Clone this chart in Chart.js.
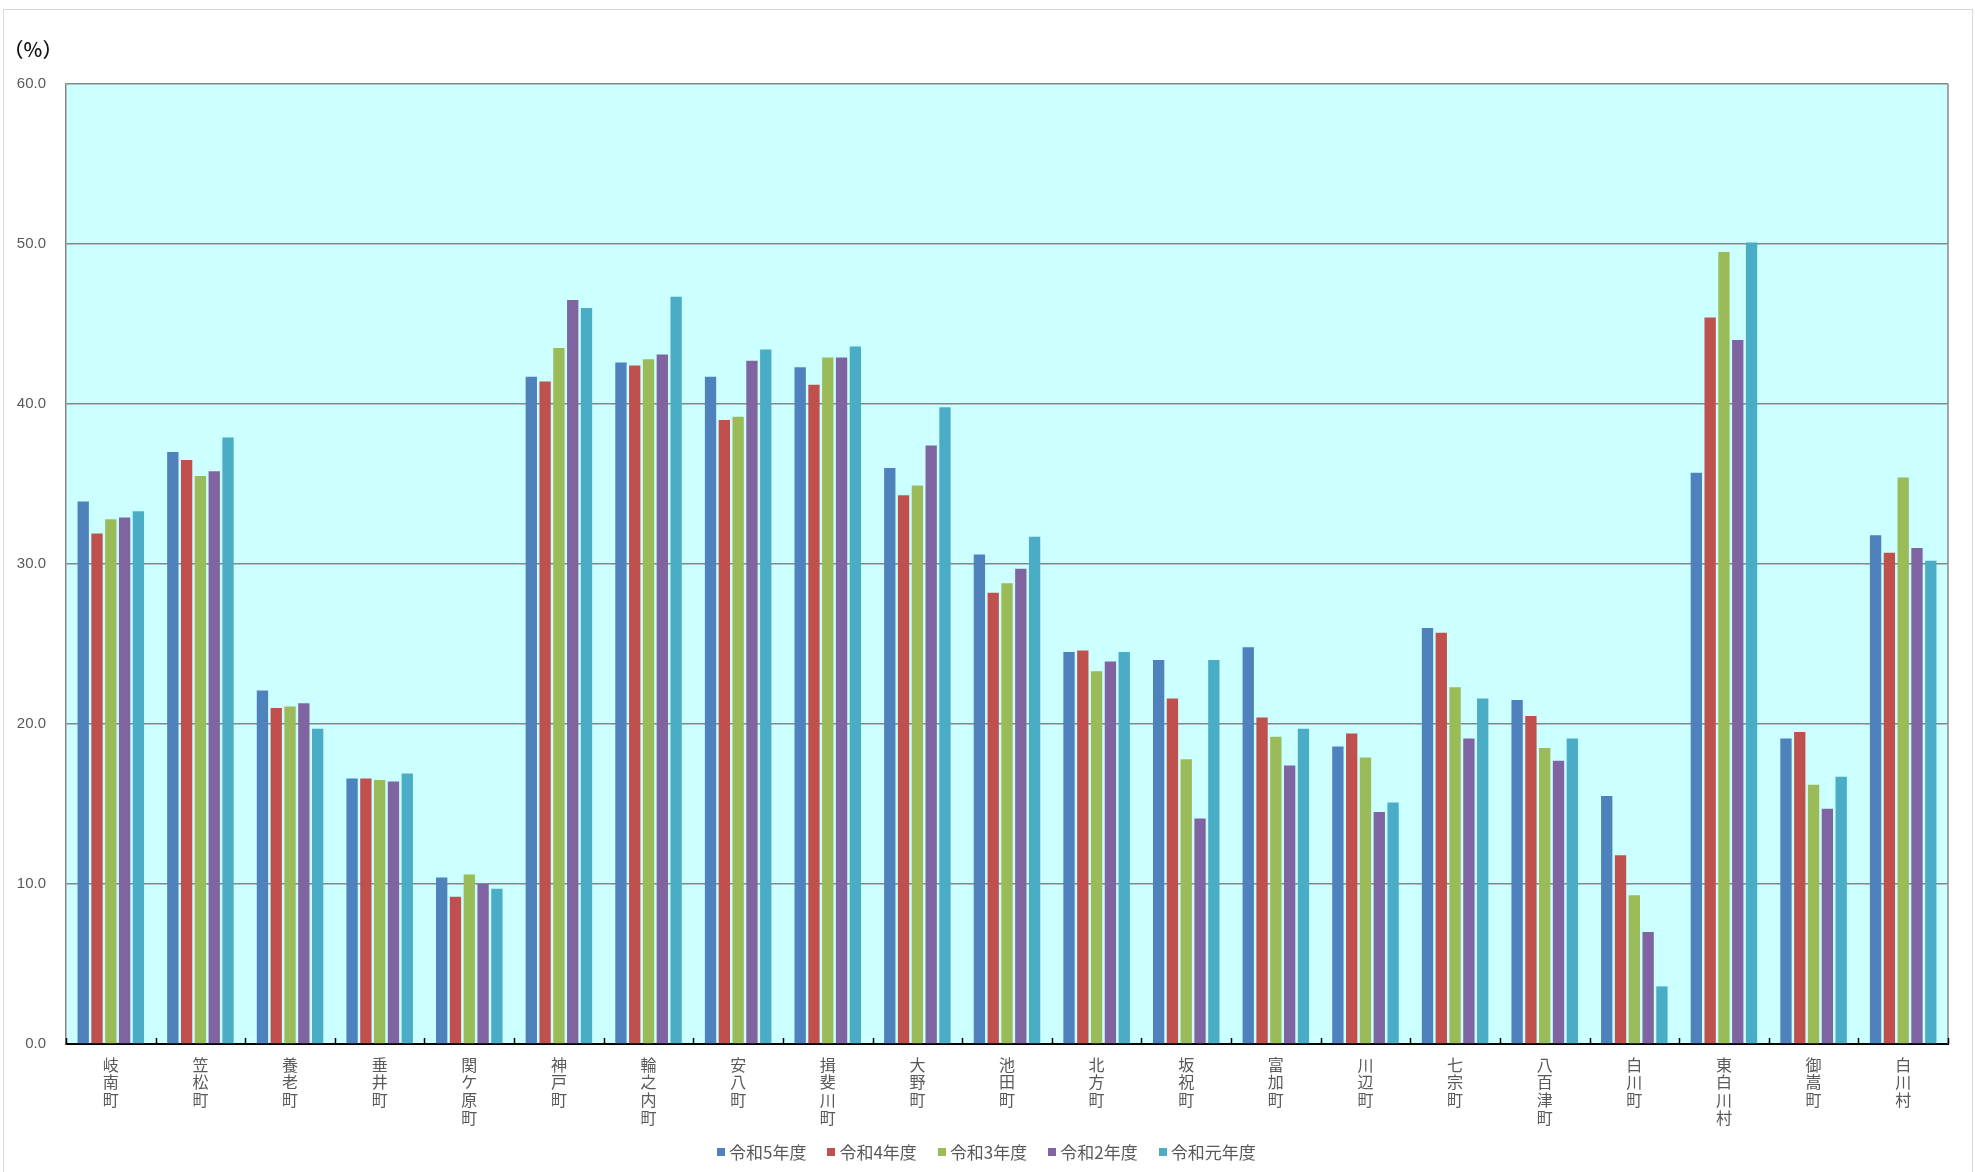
<!DOCTYPE html>
<html lang="ja">
<head>
<meta charset="utf-8">
<title>令和元年度〜令和5年度 町村別比較</title>
<script src="https://cdn.jsdelivr.net/npm/chart.js@4.4.1/dist/chart.umd.min.js"></script>
<style>
  html, body { margin: 0; padding: 0; background: #fff; }
  #wrap { position: relative; width: 1975px; height: 1172px; }
  #legend {
    position: absolute; left: 717px; top: 1140px; height: 24px;
    display: flex; gap: 21px;
    font-family: "Noto Sans CJK JP", sans-serif; font-size: 17px; line-height: 24px; color: #595959;
  }
  #legend .item { display: flex; align-items: center; }
  #legend .box { width: 8px; height: 8px; margin-right: 4px; }
</style>
</head>
<body>
<div id="wrap">
  <canvas id="chart" width="1975" height="1172"></canvas>
  <div id="legend"></div>
</div>
<script>
const categories = ["岐南町", "笠松町", "養老町", "垂井町", "関ケ原町", "神戸町", "輪之内町", "安八町", "揖斐川町", "大野町", "池田町",
  "北方町", "坂祝町", "富加町", "川辺町", "七宗町", "八百津町", "白川町", "東白川村", "御嵩町", "白川村"];

const seriesNames = ["令和5年度", "令和4年度", "令和3年度", "令和2年度", "令和元年度"];
const seriesColors = ["#4F81BD", "#C0504D", "#9BBB59", "#8064A2", "#4BACC6"];

const r5 = [33.9, 37.0, 22.1, 16.6, 10.4, 41.7, 42.6, 41.7, 42.3, 36.0, 30.6, 24.5, 24.0, 24.8, 18.6, 26.0, 21.5, 15.5, 35.7, 19.1, 31.8];
const r4 = [31.9, 36.5, 21.0, 16.6, 9.2, 41.4, 42.4, 39.0, 41.2, 34.3, 28.2, 24.6, 21.6, 20.4, 19.4, 25.7, 20.5, 11.8, 45.4, 19.5, 30.7];
const r3 = [32.8, 35.5, 21.1, 16.5, 10.6, 43.5, 42.8, 39.2, 42.9, 34.9, 28.8, 23.3, 17.8, 19.2, 17.9, 22.3, 18.5, 9.3, 49.5, 16.2, 35.4];
const r2 = [32.9, 35.8, 21.3, 16.4, 10.0, 46.5, 43.1, 42.7, 42.9, 37.4, 29.7, 23.9, 14.1, 17.4, 14.5, 19.1, 17.7, 7.0, 44.0, 14.7, 31.0];
const r1 = [33.3, 37.9, 19.7, 16.9, 9.7, 46.0, 46.7, 43.4, 43.6, 39.8, 31.7, 24.5, 24.0, 19.7, 15.1, 21.6, 19.1, 3.6, 50.1, 16.7, 30.2];

const yTicks = [0, 10, 20, 30, 40, 50, 60];

const allSeries = [r5, r4, r3, r2, r1];
const cjk = '"Noto Sans CJK JP", sans-serif';
const latin = '"Liberation Sans", Arial, sans-serif';

// background, frame and the little inner ticks on the category axis
const framePlugin = {
  id: "frame",
  beforeDraw(chart) {
    const { ctx, chartArea: a } = chart;
    ctx.save();
    ctx.fillStyle = "#fff";
    ctx.fillRect(0, 0, chart.width, chart.height);
    ctx.strokeStyle = "#d9d9d9";
    ctx.lineWidth = 1;
    ctx.strokeRect(3.5, 9.5, chart.width - 6, chart.height);
    ctx.fillStyle = "#CCFFFF";
    ctx.fillRect(a.left, a.top, a.right - a.left, a.bottom - a.top);
    ctx.restore();
  },
  afterDraw(chart) {
    const { ctx, chartArea: a } = chart;
    const x = chart.scales.x;
    ctx.save();
    ctx.strokeStyle = "#8a8a8a";
    ctx.lineWidth = 1.5;
    ctx.beginPath();
    ctx.moveTo(a.right, a.top);
    ctx.lineTo(a.right, a.bottom);
    ctx.stroke();

    ctx.strokeStyle = "#000";
    ctx.lineWidth = 1.5;
    const half = (x.getPixelForValue(1) - x.getPixelForValue(0)) / 2;
    ctx.beginPath();
    for (let i = 0; i <= categories.length; i += 1) {
      const px = Math.round(x.getPixelForValue(0) - half + i * half * 2) + 0.5;
      ctx.moveTo(px, a.bottom);
      ctx.lineTo(px, a.bottom - 6);
    }
    ctx.stroke();

    ctx.fillStyle = "#111";
    ctx.font = "500 20px " + cjk;
    ctx.textAlign = "center";
    ctx.textBaseline = "middle";
    ctx.fillText("（%）", 33, 49);
    ctx.restore();
  }
};

const chart = new Chart(document.getElementById("chart"), {
  type: "bar",
  data: {
    labels: categories.map((name) => [...name]),
    datasets: allSeries.map((values, i) => ({
      label: seriesNames[i],
      data: values,
      backgroundColor: seriesColors[i],
      borderWidth: 0,
      categoryPercentage: 0.77,
      barPercentage: 0.82
    }))
  },
  options: {
    responsive: false,
    animation: false,
    layout: { padding: { top: 84, right: 27, left: 0, bottom: 0 } },
    plugins: {
      legend: { display: false },
      tooltip: { enabled: false }
    },
    scales: {
      x: {
        grid: { display: false, drawTicks: false },
        border: { display: true, color: "#000", width: 2 },
        ticks: {
          autoSkip: false,
          maxRotation: 0,
          padding: 12,
          color: "#595959",
          font: { family: cjk, size: 16, lineHeight: 1.1 }
        },
        afterFit: (scale) => { scale.height = 1172 - 1044; }
      },
      y: {
        min: 0,
        max: 60,
        afterBuildTicks: (scale) => { scale.ticks = yTicks.map((v) => ({ value: v })); },
        grid: { color: "#858585", lineWidth: 1.5, drawTicks: false },
        border: { display: true, color: "#858585", width: 1.5 },
        ticks: {
          padding: 20,
          color: "#595959",
          font: { family: latin, size: 15 },
          callback: (v) => Number(v).toFixed(1)
        },
        afterFit: (scale) => { scale.width = 66; }
      }
    }
  },
  plugins: [framePlugin]
});

const legendEl = document.getElementById("legend");
seriesNames.forEach((name, i) => {
  const item = document.createElement("div");
  item.className = "item";
  const box = document.createElement("span");
  box.className = "box";
  box.style.background = seriesColors[i];
  const text = document.createElement("span");
  text.textContent = name;
  item.appendChild(box);
  item.appendChild(text);
  legendEl.appendChild(item);
});
</script>
</body>
</html>
